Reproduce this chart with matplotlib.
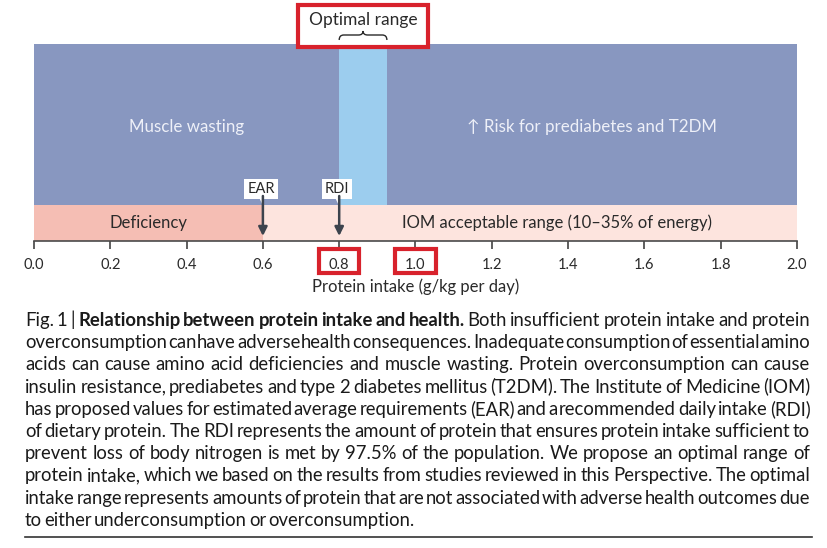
import matplotlib
matplotlib.use('Agg')
import matplotlib.pyplot as plt
import matplotlib.transforms as mtransforms
from matplotlib.patches import Rectangle, Polygon, PathPatch
from matplotlib.path import Path

# ---- data ----
x_ticks = [0.0, 0.2, 0.4, 0.6, 0.8, 1.0, 1.2, 1.4, 1.6, 1.8, 2.0]
highlight_ticks = [0.8, 1.0]

# upper band: health effects
top_labels = ['Muscle wasting', '', '\u2191 Risk for prediabetes and T2DM']
top_start = [0.0, 0.8, 0.925]
top_end = [0.8, 0.925, 2.0]
top_colors = ['#8897c0', '#9ccdee', '#8897c0']
optimal_range = (0.8, 0.925)

# lower band: intake recommendations
low_labels = ['Deficiency', 'IOM acceptable range (10\u201335% of energy)']
low_start = [0.0, 0.6]
low_end = [0.6, 2.0]
low_colors = ['#f5beb4', '#fde4de']
low_text_x = [0.30, 1.37]

marker_names = ['EAR', 'RDI']
marker_values = [0.6, 0.8]

caption_lines = [
    'Fig. 1 | **Relationship between protein intake and health.** Both insufficient protein intake and protein',
    'overconsumption can have adverse health consequences. Inadequate consumption of essential amino',
    'acids can cause amino acid deficiencies and muscle wasting. Protein overconsumption can cause',
    'insulin resistance, prediabetes and type 2 diabetes mellitus (T2DM). The Institute of Medicine (IOM)',
    'has proposed values for estimated average requirements (EAR) and a recommended daily intake (RDI)',
    'of dietary protein. The RDI represents the amount of protein that ensures protein intake sufficient to',
    'prevent loss of body nitrogen is met by 97.5% of the population. We propose an optimal range of',
    'protein intake, which we based on the results from studies reviewed in this Perspective. The optimal',
    'intake range represents amounts of protein that are not associated with adverse health outcomes due',
    'to either underconsumption or overconsumption.',
]

W, H = 828, 548
chart_font = ['Lato', 'DejaVu Sans']
cap_font = ['Lato', 'DejaVu Sans']
red = '#d8222c'
dark = '#2a2a2a'

fig = plt.figure(figsize=(W / 100, H / 100), dpi=100)
ax = fig.add_axes([34 / W, 1 - 241 / H, 763 / W, 197 / H])
ax.set_xlim(0, 2)
ax.set_ylim(0, 197)   # y in pixels above the axis line
low_h = 36

# bands
ax.bar(top_start, 197 - low_h, bottom=low_h,
       width=[e - s for s, e in zip(top_start, top_end)],
       align='edge', color=top_colors, linewidth=0)
ax.bar(low_start, low_h, bottom=0,
       width=[e - s for s, e in zip(low_start, low_end)],
       align='edge', color=low_colors, linewidth=0)

for lab, s, e in zip(top_labels, top_start, top_end):
    if lab:
        ax.text((s + e) / 2, 241 - 127, lab, ha='center', va='center',
                fontsize=12.2, color='#eef0f8', family=chart_font)
for lab, tx in zip(low_labels, low_text_x):
    ax.text(tx, low_h / 2, lab, ha='center', va='center',
            fontsize=12, color=dark, family=chart_font)

# EAR / RDI markers
for name, v in zip(marker_names, marker_values):
    ax.add_patch(Polygon([(v - 0.014, 46), (v, 46), (v, 35)],
                         closed=True, facecolor='white', edgecolor='none', zorder=3))
    ax.text(v - 0.005, 52, name, ha='center', va='center', fontsize=10.5,
            color=dark, family=chart_font, zorder=4,
            bbox=dict(boxstyle='square,pad=0.2', facecolor='white', edgecolor='none'))
    ax.annotate('', xy=(v, 5), xytext=(v, 45),
                arrowprops=dict(arrowstyle='-|>', color='#3c434d', lw=1.8,
                                mutation_scale=13, shrinkA=0, shrinkB=0),
                zorder=5)

# axis
for side in ['left', 'right', 'top']:
    ax.spines[side].set_visible(False)
ax.spines['bottom'].set_color('#4a4a4a')
ax.spines['bottom'].set_linewidth(1.2)
ax.set_yticks([])
ax.set_xticks(x_ticks)
ax.set_xticklabels(['%.1f' % t for t in x_ticks], family=chart_font, fontsize=10.5, color=dark)
ax.tick_params(axis='x', direction='out', length=6, width=1.1, color='#333333', pad=6)
ax.set_xlabel('Protein intake (g/kg per day)', family=chart_font, fontsize=12, color=dark)
ax.xaxis.set_label_coords(0.5, (241 - 287) / 197)
ax.xaxis.label.set_va('center')

# highlight boxes (x in data, y in pixels from top)
top_px = mtransforms.Affine2D().scale(1, -1).translate(0, H)
bl = mtransforms.blended_transform_factory(ax.transData, top_px)
for v in highlight_ticks:
    fig.add_artist(Rectangle((v - 0.053, 249), 0.106, 24, transform=bl,
                             facecolor='none', edgecolor=red, lw=3, clip_on=False))

o_mid = sum(optimal_range) / 2
fig.add_artist(Rectangle((o_mid - 0.1715, 5), 0.343, 42, transform=bl,
                         facecolor='white', edgecolor=red, lw=3, clip_on=False, zorder=2))
fig.text(o_mid, 20, 'Optimal range', transform=bl, ha='center', va='center',
         fontsize=12.5, color=dark, family=chart_font, zorder=3)

# brace over optimal range
x0, x1 = optimal_range
d = 0.012
verts = [(x0, 40), (x0, 35), (x0 + d, 35), (o_mid - d, 35), (o_mid, 35), (o_mid, 31),
         (o_mid, 35), (o_mid + d, 35), (x1 - d, 35), (x1, 35), (x1, 40)]
codes = [Path.MOVETO, Path.CURVE3, Path.CURVE3, Path.LINETO, Path.CURVE3, Path.CURVE3,
         Path.CURVE3, Path.CURVE3, Path.LINETO, Path.CURVE3, Path.CURVE3]
fig.add_artist(PathPatch(Path(verts, codes), transform=bl, facecolor='none',
                         edgecolor=dark, lw=1, clip_on=False, zorder=3))

# caption, fully justified word by word
renderer = fig.canvas.get_renderer()
left_px, right_px = 25, 810
target = right_px - left_px
base_fs = 12.0
max_fs = 14.0

lines = []
for line in caption_lines:
    parts = line.split('**')
    words = []
    for i, part in enumerate(parts):
        for w in part.split():
            words.append((w, 'bold' if i % 2 == 1 else 'normal'))
    lines.append(words)

def measure(word, weight, fs):
    t = fig.text(0, 0, word, fontsize=fs, family=cap_font, weight=weight)
    wd = t.get_window_extent(renderer).width
    t.remove()
    return wd

widths = [[measure(w, wt, base_fs) for w, wt in ws] for ws in lines]
sp = measure('a a', 'normal', base_fs) - measure('aa', 'normal', base_fs)
min_gap = 0.2 * sp
scale = min((target - (len(ws) - 1) * min_gap) / sum(wd) for ws, wd in zip(lines, widths))
fs = min(max_fs, base_fs * scale)
k = fs / base_fs

for li, (ws, wd) in enumerate(zip(lines, widths)):
    wd = [w * k for w in wd]
    y = 1 - (326 + li * 22.2) / H
    if li < len(lines) - 1:
        gap = (target - sum(wd)) / (len(ws) - 1)
    else:
        gap = 0.45 * sp * k
    x = left_px
    for (w, wt), wdt in zip(ws, wd):
        fig.text(x / W, y, w, fontsize=fs, family=cap_font, weight=wt,
                 color='#1a1a1a', va='baseline', ha='left')
        x += wdt + gap

fig.add_artist(plt.Line2D([left_px / W, 812 / W], [1 - 537 / H, 1 - 537 / H],
                          transform=fig.transFigure, color='#333333', lw=1.2))

fig.savefig('out.png', dpi=100)
